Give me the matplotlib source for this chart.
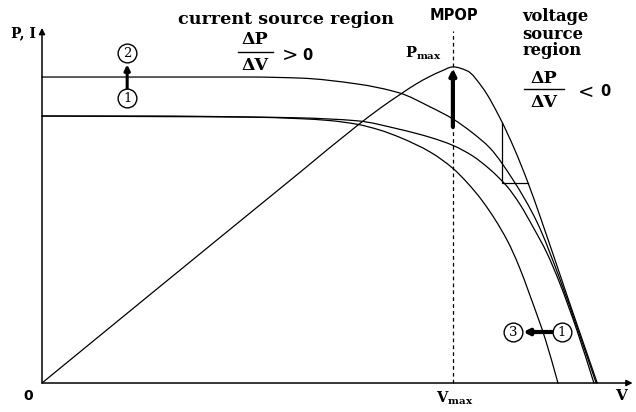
import numpy as np
import matplotlib
matplotlib.use("Agg")
import matplotlib.pyplot as plt
from matplotlib.path import Path
from matplotlib.patches import PathPatch

plt.rcParams["mathtext.fontset"] = "dejavuserif"

# Voltage in % of open-circuit voltage; current / power in % of reference Isc
v_i2 = [0.0, 19.5, 37.6, 46.7, 57.0, 64.7, 70.2, 74.3, 77.9, 81.0, 85.2, 89.5, 93.7, 96.9, 100.2]
i_2 = [114.6, 114.6, 114.6, 114.2, 112.0, 108.6, 103.4, 98.9, 93.6, 88.0, 76.0, 60.3, 38.6, 19.9, 0.0]

v_i1 = [0.0, 19.5, 37.6, 46.7, 57.0, 64.7, 70.2, 74.3, 77.9, 81.0, 84.1, 86.4, 88.8, 91.3, 93.6, 96.7, 99.8]
i_1 = [100.0, 99.8, 99.6, 99.3, 98.2, 95.0, 92.0, 89.0, 85.0, 80.0, 73.6, 67.0, 58.4, 48.7, 37.5, 19.9, 0.0]

v_i3 = [0.0, 19.5, 37.6, 46.7, 52.0, 57.0, 61.0, 64.7, 70.2, 74.3, 76.9, 79.7, 84.1, 86.2, 88.2, 91.0, 93.3]
i_3 = [100.0, 100.0, 99.6, 99.0, 98.3, 96.9, 94.8, 92.0, 86.5, 80.4, 75.0, 68.0, 53.5, 44.0, 33.0, 16.5, 0.0]

v_p = [0.0, 20.0, 46.7, 57.0, 61.2, 64.7, 67.5, 70.2, 72.3, 74.3, 76.9, 79.7, 82.8, 85.5, 87.9, 90.1, 94.9, 100.4]
p = [0.0, 33.9, 79.0, 96.4, 103.0, 108.0, 111.8, 114.9, 116.9, 118.4, 116.9, 110.5, 99.3, 87.3, 74.9, 62.2, 33.0, 0.0]

v_mpp = 74.3
p_max = 118.4
v_slope = [83.2, 87.9]          # ΔV interval on the falling side of P-V

fig = plt.figure(figsize=(6.36, 4.12), dpi=100)
ax = fig.add_axes([0, 0, 1, 1])
ax.set_xlim(-7.595, 107.41)
ax.set_ylim(-10.86, 143.45)
ax.set_axis_off()

lw = 0.9


def smooth_curve(xs, ys, **kw):
    """Draw a shape-preserving cubic path through the given (x, y) points."""
    x = np.asarray(xs, float)
    y = np.asarray(ys, float)
    h = np.diff(x)
    d = np.diff(y) / h
    m = np.empty_like(x)
    m[0], m[-1] = d[0], d[-1]
    for k in range(1, len(x) - 1):
        if d[k - 1] * d[k] <= 0:
            m[k] = 0.0
        else:
            w1 = 2 * h[k] + h[k - 1]
            w2 = h[k] + 2 * h[k - 1]
            m[k] = (w1 + w2) / (w1 / d[k - 1] + w2 / d[k])
    verts = [(x[0], y[0])]
    codes = [Path.MOVETO]
    for k in range(len(x) - 1):
        t = h[k] / 3.0
        verts += [(x[k] + t, y[k] + m[k] * t),
                  (x[k + 1] - t, y[k + 1] - m[k + 1] * t),
                  (x[k + 1], y[k + 1])]
        codes += [Path.CURVE4] * 3
    ax.add_patch(PathPatch(Path(verts, codes), fill=False, **kw))


for vx, vy in [(v_i2, i_2), (v_i1, i_1), (v_i3, i_3), (v_p, p)]:
    smooth_curve(vx, vy, edgecolor="black", lw=lw, capstyle="round")

# slope triangle ΔP/ΔV
p_a, p_b = np.interp(v_slope, v_p, p)
ax.plot([v_slope[0], v_slope[0], v_slope[1]], [p_a, p_b, p_b], color="black", lw=lw)

# axes with arrow heads
ax.annotate("", xy=(0, 133.0), xytext=(0, 0),
            arrowprops=dict(arrowstyle="-|>", lw=1.1, color="black", mutation_scale=9,
                            shrinkA=0, shrinkB=0))
ax.annotate("", xy=(106.8, 0), xytext=(0, 0),
            arrowprops=dict(arrowstyle="-|>", lw=1.1, color="black", mutation_scale=9,
                            shrinkA=0, shrinkB=0))

# MPP dashed marker
ax.plot([v_mpp, v_mpp], [0, 132.0], color="black", lw=0.9, ls=(0, (3, 2.5)))
ax.annotate("", xy=(v_mpp, p_max - 0.6), xytext=(v_mpp, 95.9),
            arrowprops=dict(arrowstyle="-|>", lw=3.0, color="black", mutation_scale=9,
                            shrinkA=0, shrinkB=0))


# numbered state markers
def marker(x, y, label):
    ax.plot([x], [y], marker="o", ms=13.5, mfc="white", mec="black", mew=1.0, zorder=5)
    ax.text(x, y - 0.3, label, ha="center", va="center", fontsize=9.5,
            family="DejaVu Serif", zorder=6)


marker(15.4, 106.7, "1")
marker(15.4, 123.6, "2")
ax.annotate("", xy=(15.4, 119.3), xytext=(15.4, 110.3),
            arrowprops=dict(arrowstyle="-|>", lw=2.2, color="black", mutation_scale=8,
                            shrinkA=0, shrinkB=0))
marker(94.0, 19.1, "1")
marker(85.2, 19.1, "3")
ax.annotate("", xy=(87.0, 19.1), xytext=(92.2, 19.1),
            arrowprops=dict(arrowstyle="-|>", lw=3.0, color="black", mutation_scale=8,
                            shrinkA=0, shrinkB=0))

serif = dict(family="DejaVu Serif", fontweight="bold", color="black")
sans = dict(family="DejaVu Sans", fontweight="bold", color="black")

ax.text(-1.1, 131.1, "P, I", ha="right", va="center", fontsize=10, **serif)
ax.text(-1.6, -4.8, "0", ha="right", va="center", fontsize=10, **sans)
ax.text(104.7, -4.8, "V", ha="center", va="center", fontsize=11, **serif)
ax.text(74.7, -5.6, r"V$_{\mathbf{max}}$", ha="center", va="center", fontsize=10.5, **serif)
ax.text(68.9, 123.6, r"P$_{\mathbf{max}}$", ha="center", va="center", fontsize=10.5, **serif)
ax.text(74.5, 137.8, "MPOP", ha="center", va="center", fontsize=10.5, **sans)

ax.text(24.6, 136.3, "current source region", ha="left", va="center", fontsize=12.6, **serif)
ax.text(38.5, 128.5, "ΔP", ha="center", va="center", fontsize=12.5, **serif)
ax.plot([35.4, 41.8], [124.0, 124.0], color="black", lw=1.0)
ax.text(38.5, 119.1, "ΔV", ha="center", va="center", fontsize=12.5, **serif)
ax.text(44.8, 122.8, ">", ha="center", va="center", fontsize=14, family="DejaVu Sans")
ax.text(47.9, 122.8, "0", ha="center", va="center", fontsize=10.5, **sans)

for yy, word in zip([137.1, 130.7, 124.7], ["voltage", "source", "region"]):
    ax.text(86.8, yy, word, ha="left", va="center", fontsize=11.8, **serif)
ax.text(90.8, 114.2, "ΔP", ha="center", va="center", fontsize=12.5, **serif)
ax.plot([87.2, 94.4], [110.1, 110.1], color="black", lw=1.0)
ax.text(90.8, 105.2, "ΔV", ha="center", va="center", fontsize=12.5, **serif)
ax.text(98.4, 109.0, "<", ha="center", va="center", fontsize=14, family="DejaVu Sans")
ax.text(101.8, 109.0, "0", ha="center", va="center", fontsize=10.5, **sans)

fig.savefig("out.png", dpi=100, facecolor="white")
